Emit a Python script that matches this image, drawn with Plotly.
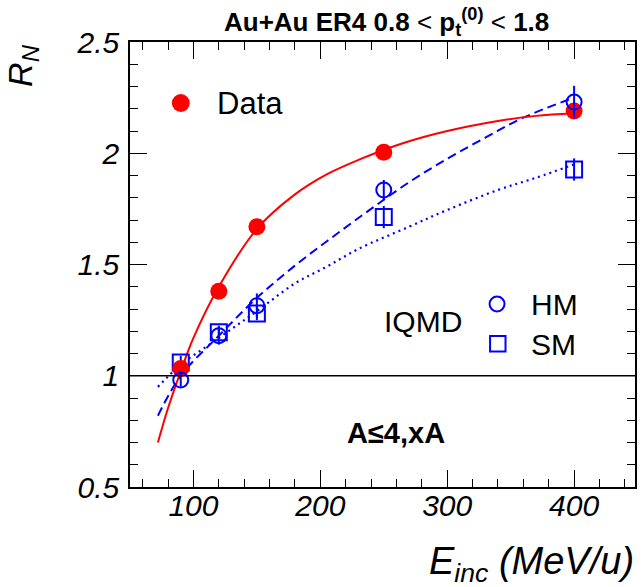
import plotly.graph_objects as go

# ---------------------------------------------------------------- data
energy = [90, 120, 150, 250, 400]            # E_inc (MeV/u)

data_rn = [1.033, 1.38, 1.67, 2.005, 2.19]
data_err = [0.02, 0.02, 0.02, 0.02, 0.02]

hm_rn = [0.981, 1.18, 1.315, 1.835, 2.23]
hm_err = [0.03, 0.04, 0.055, 0.045, 0.073]

sm_rn = [1.059, 1.195, 1.28, 1.713, 1.927]
sm_err = [0.03, 0.03, 0.03, 0.05, 0.05]

# fitted curves (sampled along each fit)
fit_data_e = [72, 80, 90, 100, 120, 150, 180, 205, 230, 265, 300, 340, 370, 400]
fit_data_r = [0.70, 0.855, 1.02, 1.17, 1.40, 1.66, 1.815, 1.905, 1.97, 2.045, 2.10, 2.145, 2.168, 2.18]

fit_hm_e = [72, 90, 120, 150, 180, 210, 240, 270, 300, 330, 360, 400]
fit_hm_r = [0.82, 1.00, 1.18, 1.35, 1.495, 1.625, 1.75, 1.87, 1.975, 2.07, 2.16, 2.25]

fit_sm_e = [72, 90, 110, 130, 150, 180, 205, 230, 270, 300, 340, 370, 400]
fit_sm_r = [0.95, 1.05, 1.13, 1.21, 1.29, 1.415, 1.49, 1.57, 1.67, 1.745, 1.835, 1.89, 1.95]

REF_LEVEL = 1.0

X_RANGE = [50, 448]
Y_RANGE = [0.5, 2.5]

# ---------------------------------------------------------------- layout geometry
W, H = 643, 587
ML, MR, MT, MB = 130, 6, 42, 100
PW, PH = W - ML - MR, H - MT - MB


def px(x):
    return (x - ML) / PW


def py(y):
    return (H - MB - y) / PH


FONT = "Liberation Sans, Arial, Helvetica, sans-serif"
RED = "#ff0000"
BLUE = "#0000ff"

fig = go.Figure()

# fits
fig.add_trace(go.Scatter(x=fit_sm_e, y=fit_sm_r, mode="lines",
                         line=dict(color=BLUE, width=2.2, dash="2px,4px", shape="spline"),
                         hoverinfo="skip"))
fig.add_trace(go.Scatter(x=fit_hm_e, y=fit_hm_r, mode="lines",
                         line=dict(color=BLUE, width=2, dash="9px,5px", shape="spline"),
                         hoverinfo="skip"))
fig.add_trace(go.Scatter(x=fit_data_e, y=fit_data_r, mode="lines",
                         line=dict(color=RED, width=2, shape="spline"),
                         hoverinfo="skip"))

# IQMD SM
fig.add_trace(go.Scatter(x=energy, y=sm_rn, mode="markers", name="SM",
                         marker=dict(symbol="square-open", size=16, color=BLUE,
                                     line=dict(color=BLUE, width=2)),
                         error_y=dict(type="data", array=sm_err, color=BLUE,
                                      thickness=2, width=0)))
# measured data
fig.add_trace(go.Scatter(x=energy, y=data_rn, mode="markers", name="Data",
                         marker=dict(symbol="circle", size=17, color=RED,
                                     line=dict(width=0)),
                         error_y=dict(type="data", array=data_err, color=RED,
                                      thickness=2, width=0)))
# IQMD HM
fig.add_trace(go.Scatter(x=energy, y=hm_rn, mode="markers", name="HM",
                         marker=dict(symbol="circle-open", size=15, color=BLUE,
                                     line=dict(color=BLUE, width=2)),
                         error_y=dict(type="data", array=hm_err, color=BLUE,
                                      thickness=2, width=0)))

axis_common = dict(
    showline=True, linecolor="black", linewidth=1.5, mirror="ticks",
    ticks="inside", ticklen=17, tickwidth=1.3, tickcolor="black",
    showgrid=False, zeroline=False,
    tickfont=dict(family=FONT, size=30, color="black", style="italic"),
)

fig.update_xaxes(range=X_RANGE, tick0=0, dtick=100,
                 minor=dict(dtick=20, ticks="inside", ticklen=8, tickwidth=1.3,
                            tickcolor="black", showgrid=False),
                 ticklabelstandoff=-9, **axis_common)
fig.update_yaxes(range=Y_RANGE, tick0=0.5, dtick=0.5,
                 minor=dict(dtick=0.1, ticks="inside", ticklen=8, tickwidth=1.3,
                            tickcolor="black", showgrid=False),
                 ticklabelstandoff=3, **axis_common)

shapes = [
    # reference line at R_N = 1
    dict(type="line", xref="paper", yref="y", x0=0, x1=1, y0=REF_LEVEL, y1=REF_LEVEL,
         line=dict(color="black", width=1.5)),
    # key symbols
    dict(type="circle", xref="paper", yref="paper",
         x0=px(172), x1=px(190), y0=py(94), y1=py(112),
         fillcolor=RED, line=dict(width=0)),
    dict(type="circle", xref="paper", yref="paper",
         x0=px(491), x1=px(506), y0=py(296.5), y1=py(311.5),
         line=dict(color=BLUE, width=2)),
    dict(type="rect", xref="paper", yref="paper",
         x0=px(491.5), x1=px(507), y0=py(336), y1=py(351.5),
         line=dict(color=BLUE, width=2)),
]

annotations = [
    dict(text="<b>Au+Au ER4 0.8</b> &lt; <b>p<sub>t</sub><sup>(0)</sup></b> &lt; <b>1.8</b>",
         x=px(388), y=py(22), xref="paper", yref="paper",
         xanchor="center", yanchor="middle", showarrow=False,
         font=dict(family=FONT, size=26, color="black")),
    dict(text="R<sub>N</sub>", x=px(22), y=py(42), xref="paper", yref="paper",
         xanchor="center", yanchor="top", textangle=-90, showarrow=False,
         font=dict(family=FONT, size=34, color="black", style="italic")),
    dict(text="E<sub>inc</sub> (MeV/u)", x=px(638), y=py(590), xref="paper", yref="paper",
         xanchor="right", yanchor="bottom", showarrow=False,
         font=dict(family=FONT, size=38, color="black", style="italic")),
    dict(text="Data", x=px(215), y=py(103), xref="paper", yref="paper",
         xanchor="left", yanchor="middle", showarrow=False,
         font=dict(family=FONT, size=31, color="black")),
    dict(text="IQMD", x=px(383), y=py(321), xref="paper", yref="paper",
         xanchor="left", yanchor="middle", showarrow=False,
         font=dict(family=FONT, size=30, color="black")),
    dict(text="HM", x=px(531), y=py(305), xref="paper", yref="paper",
         xanchor="left", yanchor="middle", showarrow=False,
         font=dict(family=FONT, size=30, color="black")),
    dict(text="SM", x=px(531), y=py(345), xref="paper", yref="paper",
         xanchor="left", yanchor="middle", showarrow=False,
         font=dict(family=FONT, size=30, color="black")),
    dict(text="<b>A≤4,xA</b>", x=px(397), y=py(433), xref="paper", yref="paper",
         xanchor="center", yanchor="middle", showarrow=False,
         font=dict(family=FONT, size=29, color="black")),
]

fig.update_layout(
    width=W, height=H,
    margin=dict(l=ML, r=MR, t=MT, b=MB, pad=0),
    paper_bgcolor="white", plot_bgcolor="white",
    showlegend=False,
    shapes=shapes,
    annotations=annotations,
    font=dict(family=FONT, color="black"),
)

fig.write_html("out.html")
